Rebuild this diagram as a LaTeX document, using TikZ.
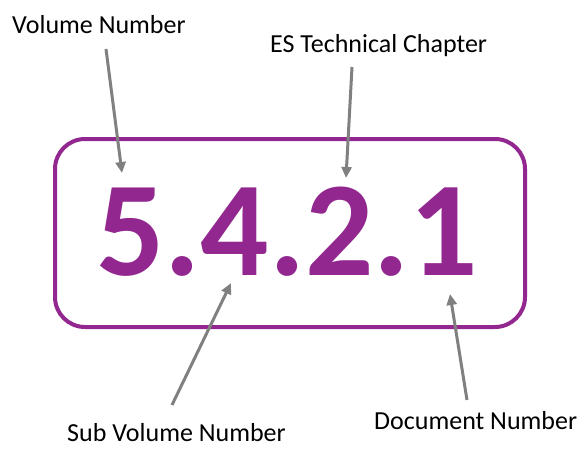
\documentclass[tikz,border=0pt]{standalone}
\usepackage{fontspec}
\setmainfont{Carlito}
\usetikzlibrary{arrows.meta}
\definecolor{boxpurple}{RGB}{146,39,143}
\definecolor{arrowgray}{RGB}{128,128,128}
\begin{document}
\begin{tikzpicture}[x=1pt,y=-1pt,
  lbl/.style={font=\fontsize{26}{30}\selectfont, text=black, inner sep=0pt, anchor=base west},
  pointer/.style={draw=arrowgray, line width=3pt, -{Triangle[length=11pt,width=10pt]}},
  frame/.style={draw=boxpurple, line width=4pt, rounded corners=30pt, minimum width=470pt, minimum height=188pt, inner sep=0pt}]
\useasboundingbox (0,0) rectangle (579,448);
\node[frame] (box) at (290,233) {};
\node[font=\fontsize{135}{140}\selectfont\bfseries, text=boxpurple, inner sep=0pt, anchor=base] (num) at (287,275) {5.4.2.1};
\node[lbl] (vol) at (12,33) {Volume Number};
\node[lbl] (es) at (270,52) {ES Technical Chapter};
\node[lbl] (sub) at (67,441) {Sub Volume Number};
\node[lbl] (doc) at (374,429) {Document Number};
\coordinate (volT) at (106,49);
\coordinate (volH) at (122,173);
\coordinate (esT) at (352,67);
\coordinate (esH) at (346,178);
\coordinate (subT) at (172,405);
\coordinate (subH) at (231,283);
\coordinate (docT) at (467,400);
\coordinate (docH) at (450,294);
\draw[pointer] (volT) -- (volH);
\draw[pointer] (esT) -- (esH);
\draw[pointer] (subT) -- (subH);
\draw[pointer] (docT) -- (docH);
\end{tikzpicture}
\end{document}
